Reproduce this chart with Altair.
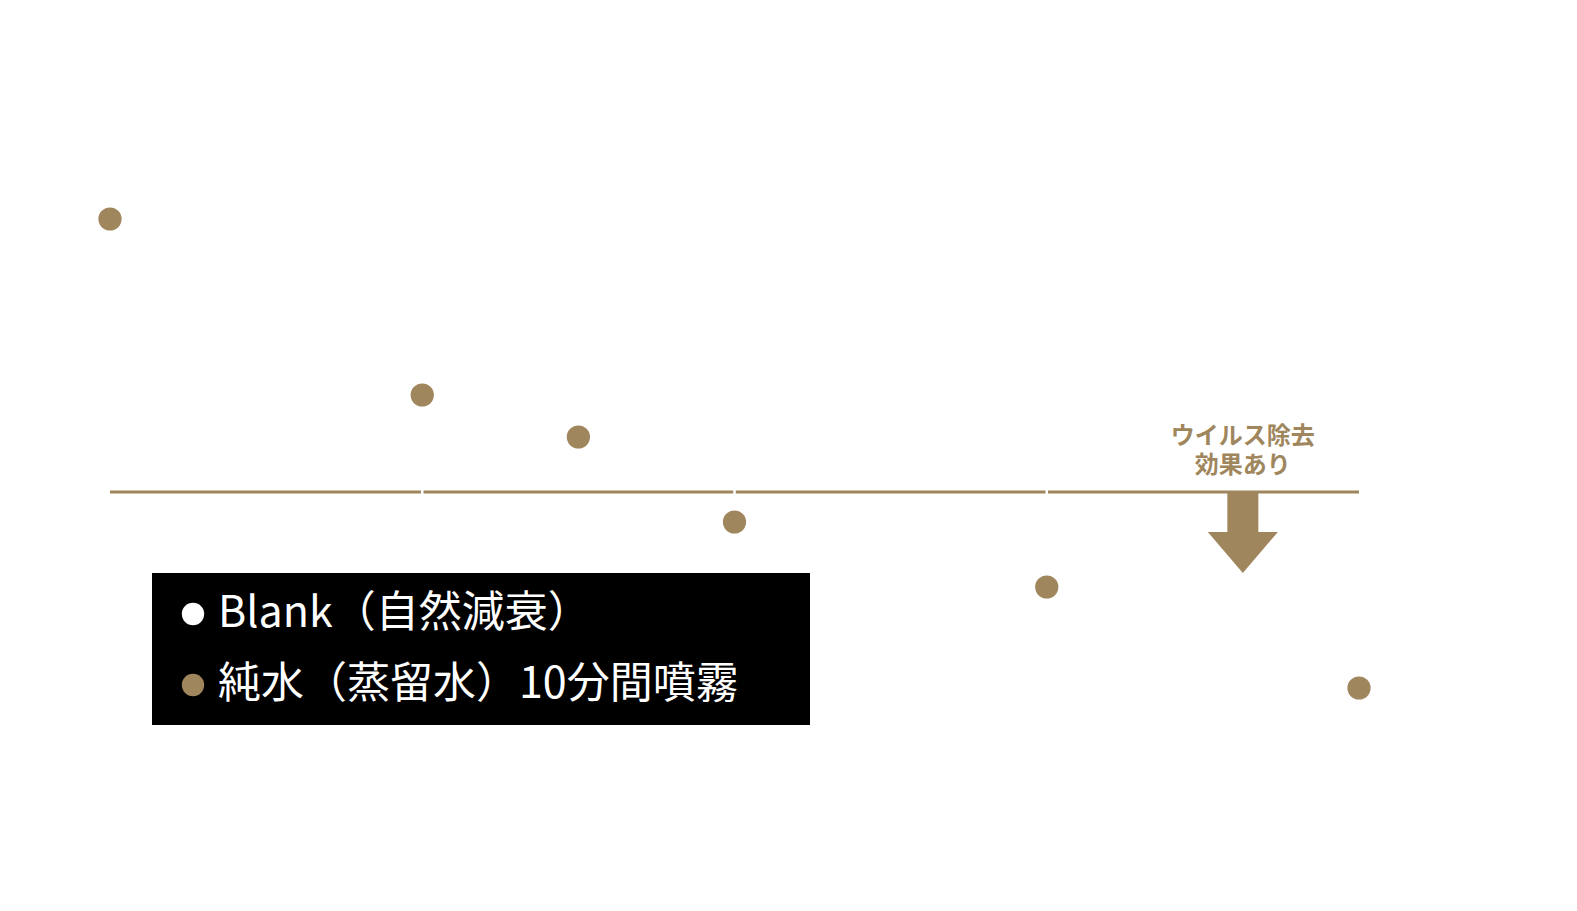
import altair as alt
import pandas as pd

# ---- data ----
minutes = [0, 10, 15, 20, 30, 40]
water_values = [5.81, 4.05, 3.63, 2.78, 2.13, 1.12]
threshold_value = 3.08
axis_minutes = [0, 10, 20, 30, 40]
gap_minutes = [10, 20, 30]
legend_labels = ["Blank（自然減衰）", "純水（蒸留水）10分間噴霧"]
annotation_lines = ["ウイルス除去", "効果あり"]
annotation_level = 3.63
arrow_minute = 36.28
arrow_level = 2.68

GOLD = "#A0865C"
WHITE = "#FFFFFF"
FONT = "Noto Sans CJK JP"

water_df = pd.DataFrame({"minute": minutes, "value": water_values})
thr_df = pd.DataFrame({"start": [0], "end": [40], "value": [threshold_value]})
gap_df = pd.DataFrame({"minute": gap_minutes, "value": [threshold_value] * len(gap_minutes)})
ann_df = pd.DataFrame({"minute": [arrow_minute], "value": [annotation_level], "label": ["\n".join(annotation_lines)]})
arrow_df = pd.DataFrame({"minute": [arrow_minute], "value": [arrow_level]})

xs = alt.Scale(domain=[0, 40], nice=False)
ys = alt.Scale(domain=[0, 7], nice=False)
x_axis = alt.Axis(values=axis_minutes, domainColor=WHITE, tickColor=WHITE, labelColor=WHITE, grid=False, title=None)
y_axis = alt.Axis(domainColor=WHITE, tickColor=WHITE, labelColor=WHITE, grid=False, title=None)

thr = alt.Chart(thr_df).mark_rule(color=GOLD, strokeWidth=3).encode(
    x=alt.X("start:Q", scale=xs, axis=x_axis),
    x2="end:Q",
    y=alt.Y("value:Q", scale=ys, axis=y_axis),
)

gaps = alt.Chart(gap_df).mark_tick(orient="vertical", color=WHITE, thickness=2.5, size=10, opacity=1).encode(
    x=alt.X("minute:Q", scale=xs),
    y=alt.Y("value:Q", scale=ys),
)

points = alt.Chart(water_df).mark_point(filled=True, shape="circle", size=540, color=GOLD, opacity=1).encode(
    x=alt.X("minute:Q", scale=xs),
    y=alt.Y("value:Q", scale=ys),
)

arrow_path = "M-0.378,-1L0.378,-1L0.378,0L0.854,0L0,1L-0.854,0L-0.378,0Z"
arrow = alt.Chart(arrow_df).mark_point(shape=arrow_path, size=6724, filled=True, fill=GOLD, strokeWidth=0, opacity=1).encode(
    x=alt.X("minute:Q", scale=xs),
    y=alt.Y("value:Q", scale=ys),
)

ann = alt.Chart(ann_df).mark_text(
    font=FONT, fontWeight="bold", fontSize=24, color=GOLD, align="center", baseline="middle",
    lineBreak="\n", lineHeight=29,
).encode(
    x=alt.X("minute:Q", scale=xs),
    y=alt.Y("value:Q", scale=ys),
    text="label:N",
)

one = alt.Data(values=[{"k": 1}])
legend_box = alt.Chart(one).mark_rect(color="#000000", opacity=1).encode(
    x=alt.value(42), x2=alt.value(700), y=alt.value(473), y2=alt.value(625)
)
legend_dot1 = alt.Chart(one).mark_point(filled=True, shape="circle", size=500, color=WHITE, opacity=1).encode(
    x=alt.value(83), y=alt.value(514)
)
legend_dot2 = alt.Chart(one).mark_point(filled=True, shape="circle", size=500, color=GOLD, opacity=1).encode(
    x=alt.value(83), y=alt.value(585)
)
legend_txt1 = alt.Chart(one).mark_text(font=FONT, fontSize=43, color=WHITE, align="left", baseline="middle").encode(
    x=alt.value(108), y=alt.value(514), text=alt.value(legend_labels[0])
)
legend_txt2 = alt.Chart(one).mark_text(font=FONT, fontSize=43, color=WHITE, align="left", baseline="middle").encode(
    x=alt.value(108), y=alt.value(585), text=alt.value(legend_labels[1])
)

chart = alt.layer(
    thr, gaps, points, arrow, ann,
    legend_box, legend_dot1, legend_dot2, legend_txt1, legend_txt2,
).properties(
    width=1249,
    height=700,
    padding={"left": 102, "top": 92, "right": 190, "bottom": 80},
    autosize=alt.AutoSizeParams(type="none"),
    background=WHITE,
).configure_view(stroke=None)

chart.save("out.html", embed_options={"renderer": "svg", "actions": False})
